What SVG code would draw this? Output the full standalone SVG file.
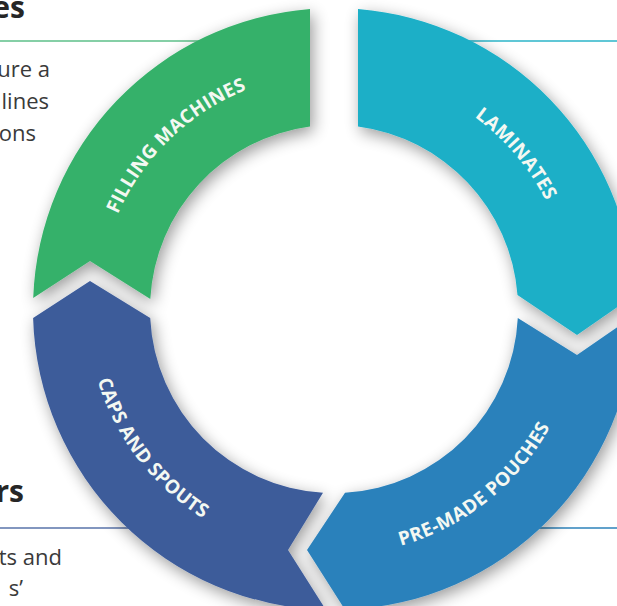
<svg xmlns="http://www.w3.org/2000/svg" width="617" height="606" viewBox="0 0 617 606">
  <style>
    .title { font-family: "Open Sans", "Liberation Sans", sans-serif; font-weight: 700; font-size: 30px; fill: #262626; }
    .body { font-family: "Open Sans", "Liberation Sans", sans-serif; font-size: 22px; fill: #3a3a3a; }
    .label { font-family: "Open Sans", "Liberation Sans", sans-serif; font-weight: 700; font-size: 19px; fill: #f4f8f2; letter-spacing: 0.3px; }
    .rule { stroke-width: 1.6; fill: none; }
  </style>
  <defs>
    <filter id="shadow" x="-20%" y="-20%" width="140%" height="140%">
      <feGaussianBlur in="SourceAlpha" stdDeviation="8"/>
      <feOffset dx="3" dy="5" result="b"/>
      <feComponentTransfer><feFuncA type="linear" slope="0.4"/></feComponentTransfer>
      <feMerge><feMergeNode/><feMergeNode in="SourceGraphic"/></feMerge>
    </filter>
    <path id="arc-fill" d="M 105.01 366.09 A 236 236 0 0 1 399.05 82.14"/>
    <path id="arc-lam" d="M 291.04 74.91 A 238 238 0 0 1 558.21 388.84"/>
    <path id="arc-pouch" d="M 244.24 538.04 A 246 246 0 0 0 577.23 272.21"/>
    <path id="arc-caps" d="M 105.97 214.08 A 247 247 0 0 0 365.81 553.94"/>
  </defs>
  <rect width="617" height="606" fill="#ffffff"/>

  <g id="side-text">
    <text class="title" x="25" y="18" text-anchor="end">es</text>
    <text class="body" x="50" y="77" text-anchor="end">ure a</text>
    <text class="body" x="49" y="109" text-anchor="end">lines</text>
    <text class="body" x="36" y="141" text-anchor="end">ons</text>
    <text class="title" x="24" y="502" text-anchor="end">rs</text>
    <text class="body" x="62" y="565" text-anchor="end">ts and</text>
    <text class="body" x="23" y="596" text-anchor="end">s’</text>
  </g>

  <g id="rules">
    <line class="rule" x1="0" y1="41" x2="205" y2="41" stroke="#5cbf88"/>
    <line class="rule" x1="465" y1="41" x2="617" y2="41" stroke="#2bb5c9"/>
    <line class="rule" x1="0" y1="528" x2="135" y2="528" stroke="#5873aa"/>
    <line class="rule" x1="535" y1="528" x2="617" y2="528" stroke="#2d82ba"/>
  </g>

  <g id="ring" filter="url(#shadow)">
    <g id="filling-machines">
      <path d="M 310 8.96 L 310 126.6 A 184 184 0 0 0 150.3 299 L 90 261 L 33.2 298 A 301 301 0 0 1 310 8.96 Z" fill="#36b16a"/>
    </g>
    <g id="laminates">
      <path d="M 358 8.96 A 301 301 0 0 1 634.7 295 L 577 335 L 517.5 295 A 184 184 0 0 0 358 126.6 Z" fill="#1aafc7"/>
    </g>
    <g id="pre-made-pouches">
      <path d="M 634.9 315 L 577 355 L 517.8 318 A 184 184 0 0 1 345 492.7 L 307 550 L 345 609.8 A 301 301 0 0 0 634.9 315 Z" fill="#2b81bb"/>
    </g>
    <g id="caps-and-spouts">
      <path d="M 326 609.9 L 288 550 L 323 492.7 A 184 184 0 0 1 150.2 318 L 90 281 L 33.1 318 A 301 301 0 0 0 326 609.9 Z" fill="#3c5b9a"/>
    </g>
  </g>

  <g id="labels">
    <text class="label"><textPath href="#arc-fill" startOffset="50%" text-anchor="middle">FILLING MACHINES</textPath></text>
    <text class="label"><textPath href="#arc-lam" startOffset="50%" text-anchor="middle">LAMINATES</textPath></text>
    <text class="label"><textPath href="#arc-pouch" startOffset="50%" text-anchor="middle">PRE-MADE POUCHES</textPath></text>
    <text class="label"><textPath href="#arc-caps" startOffset="50%" text-anchor="middle">CAPS AND SPOUTS</textPath></text>
  </g>
</svg>
